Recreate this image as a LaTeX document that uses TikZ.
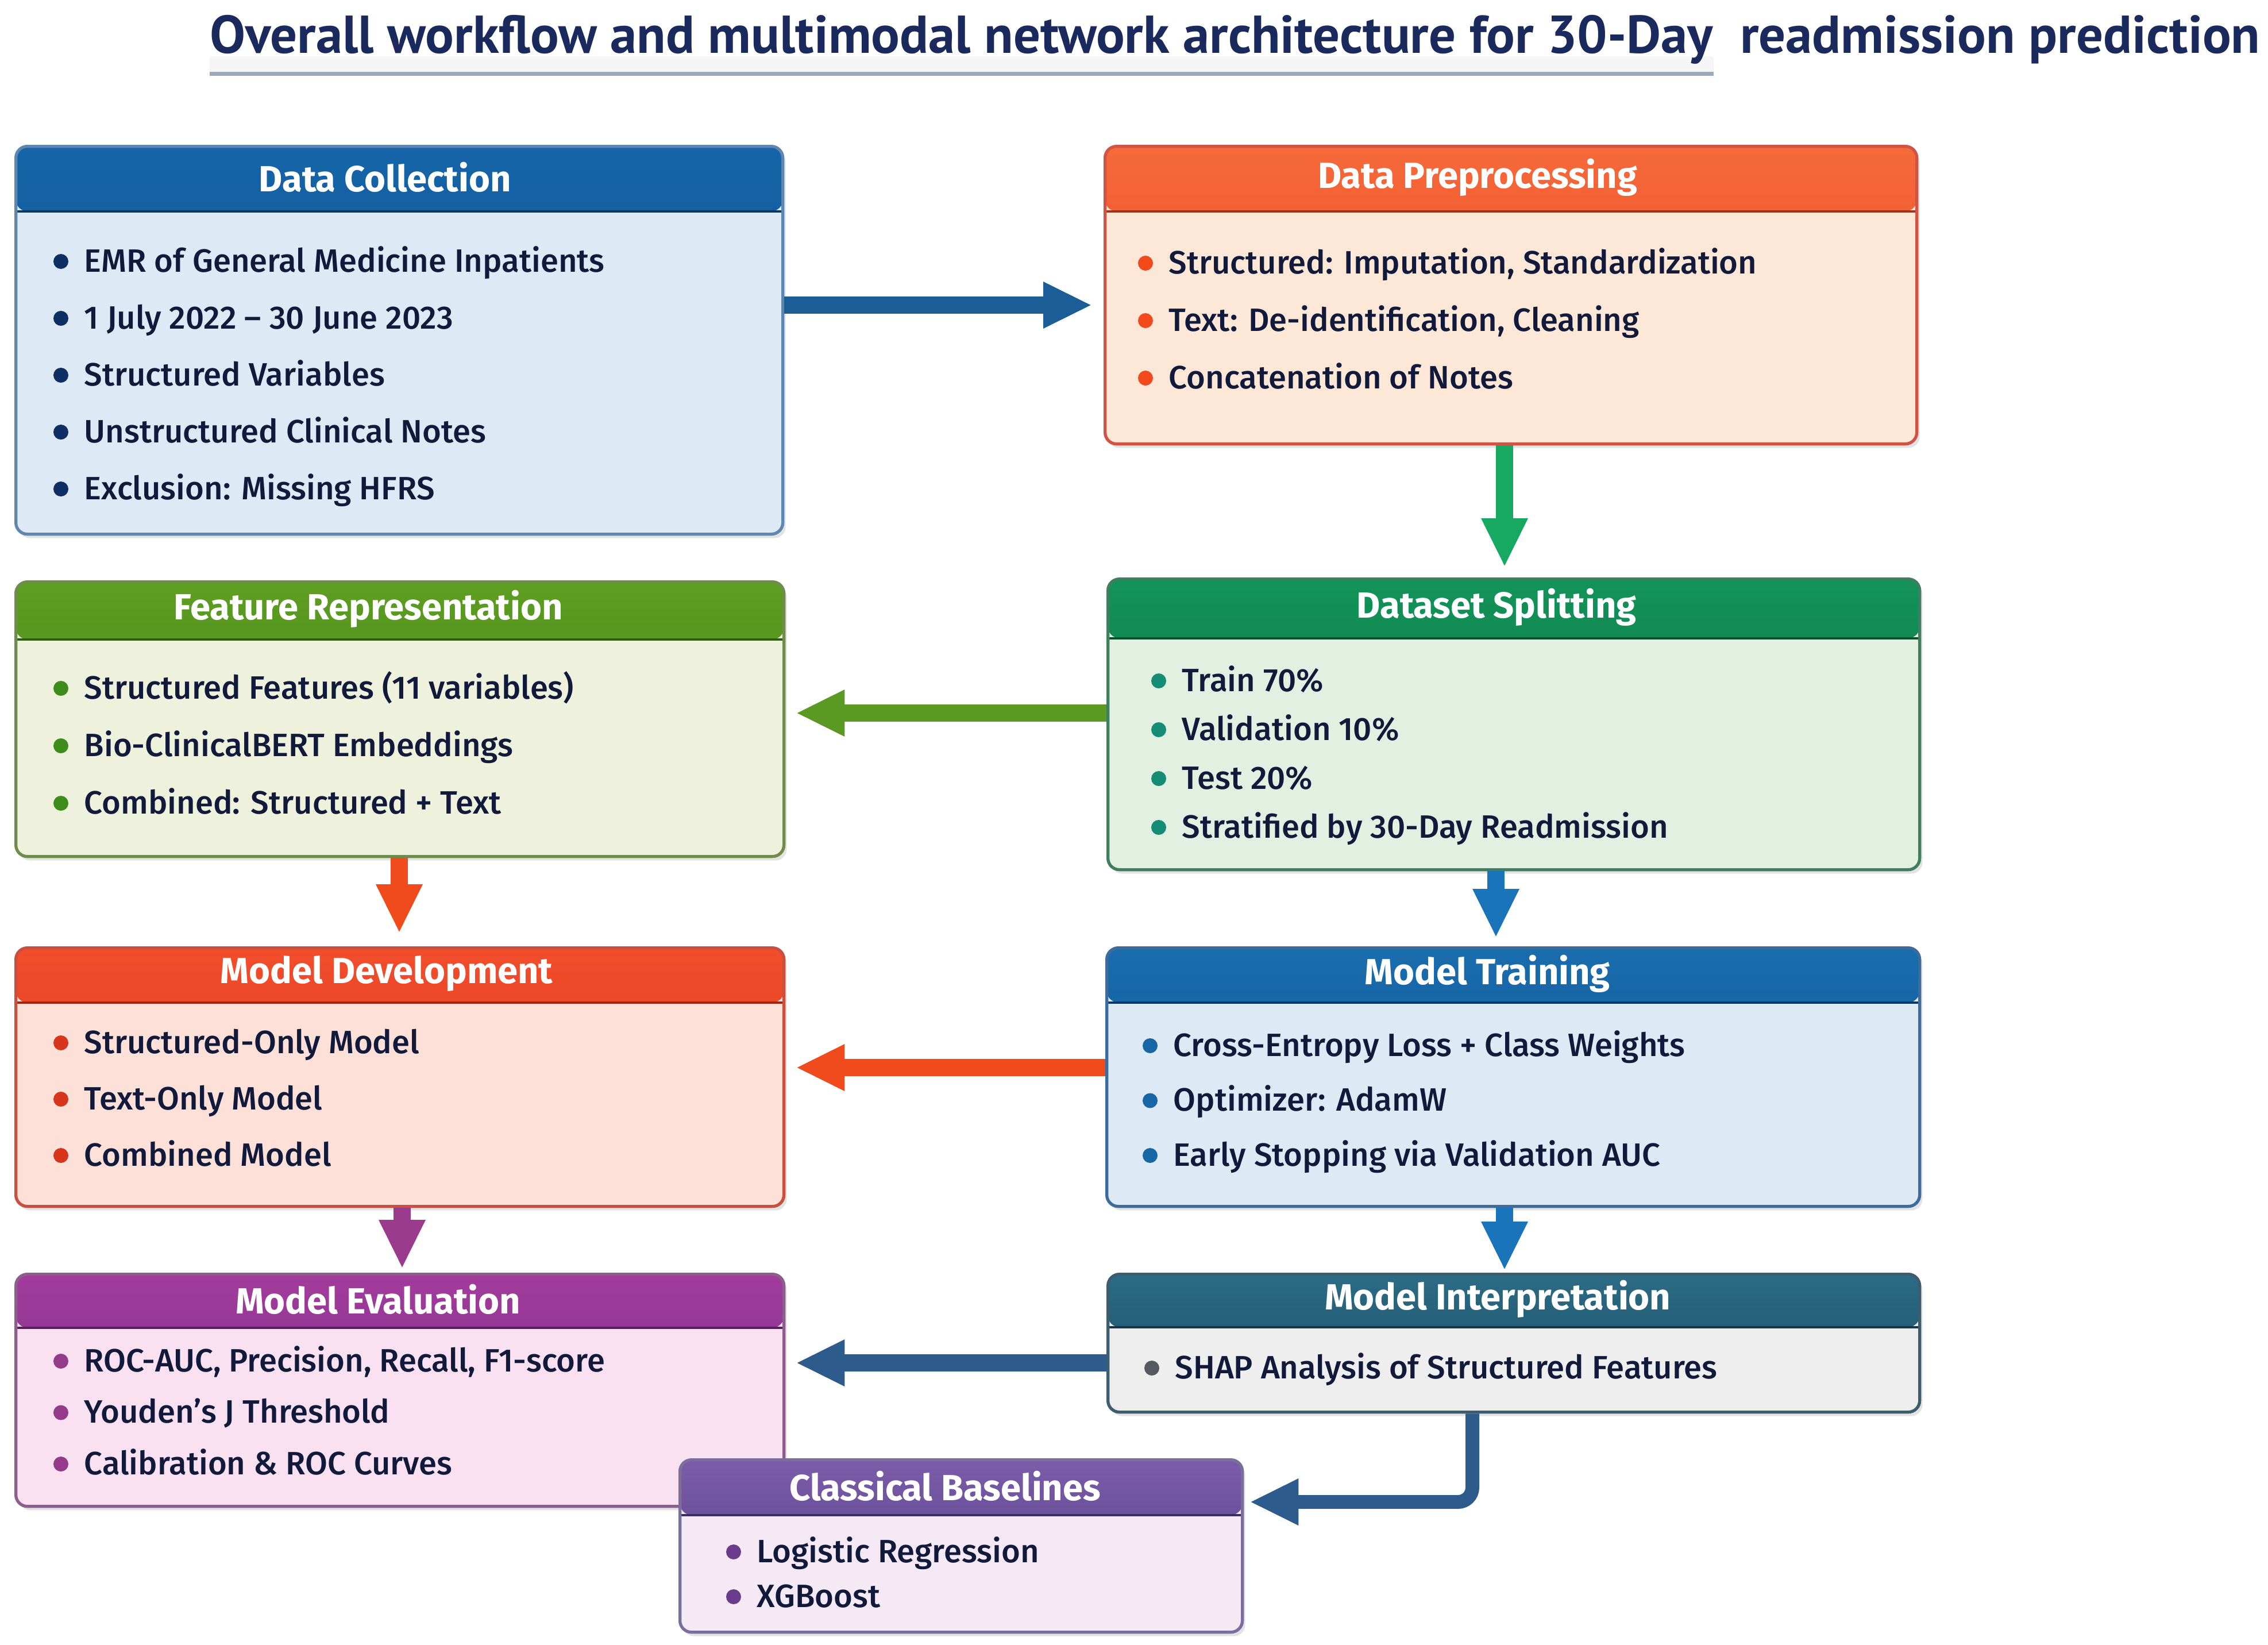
\documentclass[tikz,border=0pt]{standalone}
\usepackage{fontspec}
\setmainfont{Fira Sans}
\newfontfamily\itemfont{Fira Sans}[UprightFont={* Medium}]
\newfontfamily\titlefont{PT Sans}
\usetikzlibrary{arrows.meta, positioning, calc, shadows}

\definecolor{inktext}{HTML}{121A3C}
\definecolor{titleblue}{HTML}{1A2A5C}
\definecolor{rulegray}{HTML}{9AABBE}
% data collection
\definecolor{dcTop}{HTML}{1565A8}\definecolor{dcBot}{HTML}{0B4A88}\definecolor{dcBody}{HTML}{DDEAF6}\definecolor{dcLine}{HTML}{5F86AE}\definecolor{dcDot}{HTML}{0D2F63}
% data preprocessing
\definecolor{dpTop}{HTML}{F66A3A}\definecolor{dpBot}{HTML}{E43D1C}\definecolor{dpBody}{HTML}{FDE7D7}\definecolor{dpLine}{HTML}{CF5444}\definecolor{dpDot}{HTML}{F24A1C}
% feature representation
\definecolor{frTop}{HTML}{5E9E22}\definecolor{frBot}{HTML}{3E7A16}\definecolor{frBody}{HTML}{EEF2DD}\definecolor{frLine}{HTML}{6E8C4C}\definecolor{frDot}{HTML}{3E8C1C}
% dataset splitting
\definecolor{dsTop}{HTML}{13935A}\definecolor{dsBot}{HTML}{0B6B3E}\definecolor{dsBody}{HTML}{E2F0E1}\definecolor{dsLine}{HTML}{3F7F60}\definecolor{dsDot}{HTML}{148C76}
% model development
\definecolor{mdTop}{HTML}{F24E2C}\definecolor{mdBot}{HTML}{D7301A}\definecolor{mdBody}{HTML}{FDE1D9}\definecolor{mdLine}{HTML}{C9503F}\definecolor{mdDot}{HTML}{D8361C}
% model training
\definecolor{mtTop}{HTML}{1A6DAE}\definecolor{mtBot}{HTML}{0B4C8A}\definecolor{mtBody}{HTML}{DDE9F5}\definecolor{mtLine}{HTML}{3D6C9C}\definecolor{mtDot}{HTML}{1767A6}
% model evaluation
\definecolor{meTop}{HTML}{A33C9C}\definecolor{meBot}{HTML}{6E2A7E}\definecolor{meBody}{HTML}{F9E1F1}\definecolor{meLine}{HTML}{8C5E8C}\definecolor{meDot}{HTML}{943A8A}
% model interpretation
\definecolor{miTop}{HTML}{2C6C84}\definecolor{miBot}{HTML}{1A4A64}\definecolor{miBody}{HTML}{EEEEEE}\definecolor{miLine}{HTML}{3D5C6E}\definecolor{miDot}{HTML}{555A60}
% classical baselines
\definecolor{cbTop}{HTML}{7C5CA8}\definecolor{cbBot}{HTML}{4C3C88}\definecolor{cbBody}{HTML}{F4E9F4}\definecolor{cbLine}{HTML}{7C6E9C}\definecolor{cbDot}{HTML}{6C3C8C}
% arrows
\definecolor{arBlue}{HTML}{1B5D96}\definecolor{arGreen}{HTML}{17A862}\definecolor{arOlive}{HTML}{5B9A22}
\definecolor{arRed}{HTML}{F04B1C}\definecolor{arSky}{HTML}{1A74BA}\definecolor{arPurple}{HTML}{9B3B8E}
\definecolor{arSlate}{HTML}{2D5B8C}

% bullet list of a stage: prefix, x, first baseline, gap, items
\newcommand{\stageitems}[5]{%
  \foreach \txt [count=\i] in {#5} {
    \node[itemtext] (#1-item\i) at (#2, {#3-(\i-1)*#4}) {\txt};
    \fill[#1Dot] ([xshift=-0.4cm, yshift=0.18cm]#1-item\i.base west) circle (0.13cm);
  }}

\begin{document}
\begin{tikzpicture}[
  stage/.style 2 args={draw=#1Line, fill=#1Body, line width=1.5pt, rounded corners=0.2cm,
    anchor=north west, inner sep=0pt,
    drop shadow={shadow xshift=0.05cm, shadow yshift=-0.07cm, opacity=0.22},
    path picture={
      \shade[top color=#1Top, bottom color=#1Bot]
        (path picture bounding box.north west) rectangle
        ([yshift=-#2cm]path picture bounding box.north east);
      \draw[#1Bot!75!black, line width=1.2pt]
        ([yshift=-#2cm]path picture bounding box.north west) --
        ([yshift=-#2cm]path picture bounding box.north east);
    }},
  headtext/.style={text=white, font=\fontsize{18}{21}\selectfont\bfseries},
  itemtext/.style={text=inktext, font=\itemfont\fontsize{16}{19}\selectfont, inner sep=0pt, anchor=base west},
  flow/.style={line width=0.3cm, draw=#1, -{Triangle[length=0.85cm, width=0.75cm, fill=#1]}},
]
\useasboundingbox[fill=white] (0,0) rectangle (39.48,-28.62);

% title
\fill[black!4] (3.65,-0.98) rectangle (29.83,-1.25);
\draw[rulegray, line width=0.07cm] (3.65,-1.28) -- (29.83,-1.28);
\node[anchor=base west, inner sep=0pt, text=titleblue, font=\titlefont\fontsize{26.4}{30}\selectfont\bfseries]
  (title) at (3.65,-0.92) {Overall workflow and multimodal network architecture for 30-Day\ \ readmission prediction};

% stages
\node[stage={dc}{1.13}, minimum width=13.35cm, minimum height=6.75cm] (dc) at (0.25,-2.52) {};
\node[stage={dp}{1.13}, minimum width=14.13cm, minimum height=5.18cm] (dp) at (19.21,-2.52) {};
\node[stage={fr}{1.00}, minimum width=13.37cm, minimum height=4.78cm] (fr) at (0.25,-10.10) {};
\node[stage={ds}{1.03}, minimum width=14.13cm, minimum height=5.06cm] (ds) at (19.26,-10.05) {};
\node[stage={md}{0.95}, minimum width=13.37cm, minimum height=4.50cm] (md) at (0.25,-16.47) {};
\node[stage={mt}{0.95}, minimum width=14.15cm, minimum height=4.50cm] (mt) at (19.24,-16.47) {};
\node[stage={me}{0.93}, minimum width=13.37cm, minimum height=4.04cm] (me) at (0.25,-22.15) {};
\node[stage={mi}{0.92}, minimum width=14.13cm, minimum height=2.40cm] (mi) at (19.26,-22.15) {};
\node[stage={cb}{0.96}, minimum width=9.79cm, minimum height=3.00cm] (cb) at (11.81,-25.38) {};

% headings
\node[headtext] (dc-head) at ([xshift=-0.25cm, yshift=-0.565cm]dc.north) {Data Collection};
\node[headtext] (dp-head) at ([xshift=-0.58cm, yshift=-0.565cm]dp.north) {Data Preprocessing};
\node[headtext] (fr-head) at ([xshift=-0.55cm, yshift=-0.50cm]fr.north) {Feature Representation};
\node[headtext] (ds-head) at ([xshift=-0.30cm, yshift=-0.515cm]ds.north) {Dataset Splitting};
\node[headtext] (md-head) at ([xshift=-0.23cm, yshift=-0.475cm]md.north) {Model Development};
\node[headtext] (mt-head) at ([xshift=-0.45cm, yshift=-0.475cm]mt.north) {Model Training};
\node[headtext] (me-head) at ([xshift=-0.38cm, yshift=-0.465cm]me.north) {Model Evaluation};
\node[headtext] (mi-head) at ([xshift=-0.28cm, yshift=-0.46cm]mi.north) {Model Interpretation};
\node[headtext] (cb-head) at ([xshift=-0.28cm, yshift=-0.48cm]cb.north) {Classical Baselines};

% bullet items
\stageitems{dc}{1.46}{-4.73}{0.99}{{EMR of General Medicine Inpatients}, {1 July 2022 – 30 June 2023},
  {Structured Variables}, {Unstructured Clinical Notes}, {Exclusion: Missing HFRS}}
\stageitems{dp}{20.34}{-4.76}{1.0}{{Structured: Imputation, Standardization},
  {Text: De-identification, Cleaning}, {Concatenation of Notes}}
\stageitems{fr}{1.46}{-12.16}{1.0}{{Structured Features (11 variables)},
  {Bio-ClinicalBERT Embeddings}, {Combined: Structured + Text}}
\stageitems{ds}{20.57}{-12.03}{0.85}{{Train 70\%}, {Validation 10\%}, {Test 20\%},
  {Stratified by 30-Day Readmission}}
\stageitems{md}{1.46}{-18.33}{0.98}{{Structured-Only Model}, {Text-Only Model}, {Combined Model}}
\stageitems{mt}{20.42}{-18.38}{0.955}{{Cross-Entropy Loss + Class Weights}, {Optimizer: AdamW},
  {Early Stopping via Validation AUC}}
\stageitems{me}{1.46}{-23.87}{0.895}{{ROC-AUC, Precision, Recall, F1-score},
  {Youden’s J Threshold}, {Calibration \& ROC Curves}}
\stageitems{mi}{20.45}{-23.99}{1}{{SHAP Analysis of Structured Features}}
\stageitems{cb}{13.17}{-27.19}{0.78}{{Logistic Regression}, {XGBoost}}

% connectors
\coordinate (row1) at (0,-5.31);
\coordinate (row2) at (0,-12.41);
\coordinate (row3) at (0,-18.58);
\coordinate (row4) at (0,-23.72);
\coordinate (row5) at (0,-26.14);
\draw[flow=arBlue] (dc.east |- row1) -- ([xshift=-0.2cm]dp.west |- row1);
\draw[flow=arGreen] (dp.south -| 26.19,0) -- ([yshift=0.18cm]ds.north -| 26.19,0);
\draw[flow=arOlive] (ds.west |- row2) -- ([xshift=0.18cm]fr.east |- row2);
\draw[flow=arRed] (fr.south -| 6.95,0) -- ([yshift=0.23cm]md.north -| 6.95,0);
\draw[flow=arSky] (ds.south -| 26.04,0) -- ([yshift=0.15cm]mt.north -| 26.04,0);
\draw[flow=arRed] (mt.west |- row3) -- ([xshift=0.18cm]md.east |- row3);
\draw[flow=arPurple] (md.south -| 7.0,0) -- ([yshift=0.07cm]me.north -| 7.0,0);
\draw[flow=arSky] (mt.south -| 26.19,0) -- ([yshift=0.04cm]me.north -| 26.19,0);
\draw[flow=arSlate] (mi.west |- row4) -- ([xshift=0.18cm]me.east |- row4);
\draw[flow=arSlate, line width=0.24cm, rounded corners=0.25cm] (mi.south -| 25.63,0) |- ([xshift=0.1cm]cb.east |- row5);
\end{tikzpicture}
\end{document}
